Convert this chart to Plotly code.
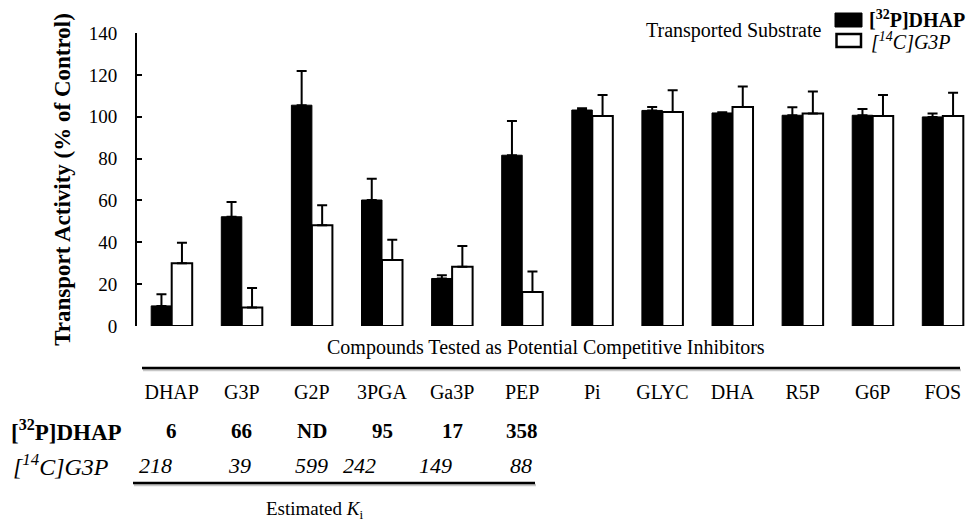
import plotly.graph_objects as go

# ---------------- data ----------------
compounds = ["DHAP", "G3P", "G2P", "3PGA", "Ga3P", "PEP", "Pi", "GLYC", "DHA", "R5P", "G6P", "FOS"]
dhap_activity = [9.6, 52.2, 105.5, 60.2, 22.7, 81.6, 103.2, 103.0, 101.8, 100.7, 100.7, 99.9]
dhap_error = [5.6, 7.1, 16.3, 10.1, 1.6, 16.4, 0.8, 1.7, 0.3, 3.8, 3.0, 1.6]
g3p_activity = [30.0, 8.8, 48.1, 31.5, 28.3, 16.2, 100.3, 102.3, 104.7, 101.5, 100.3, 100.3]
g3p_error = [9.8, 9.4, 9.6, 9.7, 9.9, 9.8, 10.1, 10.3, 9.7, 10.5, 10.1, 11.1]

ki_compounds = ["DHAP", "G3P", "G2P", "3PGA", "Ga3P", "PEP"]
ki_dhap = ["6", "66", "ND", "95", "17", "358"]
ki_g3p = ["218", "39", "599", "242", "149", "88"]

y_ticks = [0, 20, 40, 60, 80, 100, 120, 140]

# ---------------- layout geometry (pixels) ----------------
W, H = 974, 523
ML, MR, MT, MB = 137, 7, 33, 197
PW, PH = W - ML - MR, H - MT - MB
XR = [-0.495, 11.345]
FONT = "Liberation Serif, Times New Roman, serif"


def px(x):
    return (x - ML) / PW


def py(y):
    return (H - MB - y) / PH


def cx(i):
    return ML + (i - XR[0]) / (XR[1] - XR[0]) * PW


def txt(text, x, y, size, xanchor="center"):
    return dict(text=text, x=px(x), y=py(y), xref="paper", yref="paper", showarrow=False,
                font=dict(size=size, family=FONT, color="black"),
                xanchor=xanchor, yanchor="middle")


fig = go.Figure()
fig.add_trace(go.Bar(
    x=compounds, y=dhap_activity, name="[32P]DHAP",
    marker=dict(color="black", line=dict(color="black", width=1)),
    error_y=dict(type="data", array=dhap_error, arrayminus=[0] * len(dhap_error),
                 symmetric=False, color="black", thickness=2, width=5),
))
fig.add_trace(go.Bar(
    x=compounds, y=g3p_activity, name="[14C]G3P",
    marker=dict(color="white", line=dict(color="black", width=2)),
    error_y=dict(type="data", array=g3p_error, arrayminus=[0] * len(g3p_error),
                 symmetric=False, color="black", thickness=2, width=5),
))

annotations = []
shapes = []

# x-axis header
annotations.append(txt("Compounds Tested as Potential Competitive Inhibitors", 546, 347, 20))

# table lines (with slight shadow)
for x0, x1, yy in [(142, 960, 368), (133, 535, 483)]:
    shapes.append(dict(type="line", xref="paper", yref="paper", x0=px(x0 + 1), x1=px(x1 + 1),
                       y0=py(yy + 2), y1=py(yy + 2), line=dict(color="rgba(0,0,0,0.22)", width=2.5)))
    shapes.append(dict(type="line", xref="paper", yref="paper", x0=px(x0), x1=px(x1),
                       y0=py(yy), y1=py(yy), line=dict(color="black", width=2.5)))

# Ki rows
annotations.append(txt("<b>[<sup>32</sup>P]DHAP</b>", 124, 430, 23, "right"))
annotations.append(txt("<i>[<sup>14</sup>C]G3P</i>", 111, 465, 24, "right"))
g3p_shift = [-16, -2, 0, -23, -17, -1]
for i, c in enumerate(ki_compounds):
    idx = compounds.index(c)
    annotations.append(txt("<b>" + ki_dhap[i] + "</b>", cx(idx), 431, 21))
    annotations.append(txt("<i>" + ki_g3p[i] + "</i>", cx(idx) + g3p_shift[i], 465, 22))

annotations.append(txt("Estimated <i>K</i><sub>i</sub>", 314, 510, 19))

# legend (manual)
annotations.append(txt("Transported Substrate", 823, 30, 20, "right"))
shapes.append(dict(type="rect", xref="paper", yref="paper", x0=px(835), x1=px(862), y0=py(13), y1=py(27),
                   fillcolor="black", line=dict(color="black", width=1)))
shapes.append(dict(type="rect", xref="paper", yref="paper", x0=px(836.5), x1=px(861), y0=py(34), y1=py(47),
                   fillcolor="white", line=dict(color="black", width=2.5)))
annotations.append(txt("<b>[<sup>32</sup>P]DHAP</b>", 867, 19, 20, "left"))
annotations.append(txt("<i>[<sup>14</sup>C]G3P</i>", 869, 41, 20, "left"))

fig.update_layout(
    width=W, height=H,
    margin=dict(l=ML, r=MR, t=MT, b=MB, autoexpand=False),
    paper_bgcolor="white", plot_bgcolor="white",
    barmode="group", bargap=0.415, bargroupgap=0,
    showlegend=False,
    font=dict(family=FONT, color="black"),
    annotations=annotations, shapes=shapes,
    xaxis=dict(range=XR, showline=False, showgrid=False, zeroline=False, ticks="",
               tickfont=dict(size=20, family=FONT, color="black"), ticklabelstandoff=52,
               automargin=False),
    yaxis=dict(range=[0, 140], tickvals=y_ticks, showline=True, linecolor="black", linewidth=2,
               ticks="inside", ticklen=5, tickwidth=2, tickcolor="black", showgrid=False, zeroline=False,
               tickfont=dict(size=19, family=FONT, color="black"), ticklabelstandoff=14,
               title=dict(text="<b>Transport Activity (% of Control)</b>", standoff=12,
                          font=dict(size=23, family=FONT, color="black")),
               automargin=False),
)

fig.write_html("out.html", config={"displayModeBar": False},
               post_script="document.body.style.margin='0px';document.body.style.padding='0px';")
